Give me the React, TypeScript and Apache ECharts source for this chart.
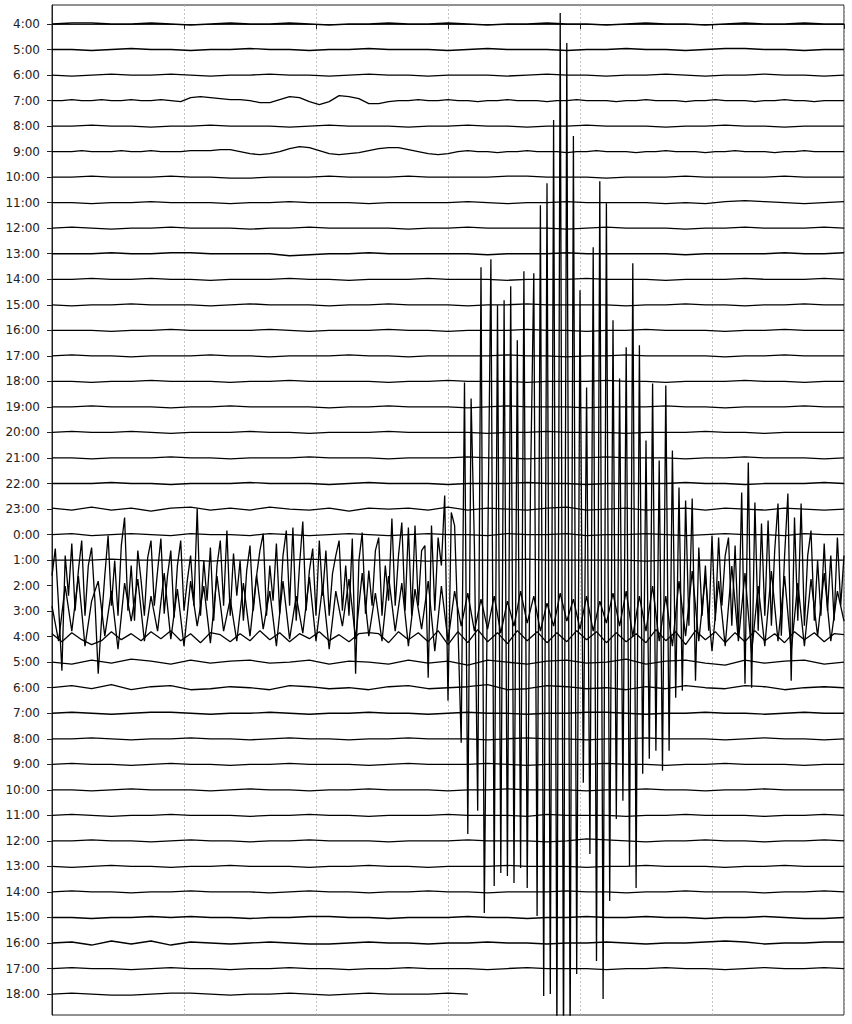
import React, { useEffect, useRef } from "react";
import * as echarts from "echarts";

// Hour labels, top to bottom
const hourLabels = [
  "4:00","5:00","6:00","7:00","8:00","9:00","10:00","11:00","12:00","13:00",
  "14:00","15:00","16:00","17:00","18:00","19:00","20:00","21:00","22:00","23:00",
  "0:00","1:00","2:00","3:00","4:00","5:00","6:00","7:00","8:00","9:00",
  "10:00","11:00","12:00","13:00","14:00","15:00","16:00","17:00","18:00",
];

// amplitude units: countsPerLine counts = one trace spacing
const countsPerLine = 25.5;
const hourMinutes = 60;
const lastTraceMinutes = 31.5;

const tr00 = [0,1,1,0,0,1,0,-1,0,1,0,0,1,0,-1,0,0,1,0,0,1,0,-1,0,0,1,0,0,-1,0,1,0,0,-1,0,1,0,0,1,0,0];
const tr01 = [0,0,-1,0,1,0,0,-1,0,0,1,0,0,-1,0,0,1,0,0,0,-1,0,1,0,0,0,-1,0,0,1,0,0,-1,0,1,1,0,0,-1,0,0];
const tr02 = [0,-1,0,1,0,0,1,0,-1,0,0,1,0,0,-1,0,1,0,0,-1,0,0,0,-1,0,1,0,0,-1,0,0,1,0,-1,0,0,1,0,0,-1,0];
const tr03 = [
  0,0,1,0,0,1,0,0,1,0, 0,1,0,-1,3,4,3,2,1,1,
  0,-2,-2,1,4,3,-1,-4,-1,5, 4,2,-3,-3,-1,0,0,1,0,0,
  1,0,0,-1,0,0,1,0,0,0, -1,0,0,1,0,0,0,-1,0,0,
  1,0,0,0,-1,0,0,1,0,0, 0,-1,0,0,1,0,0,-1,0,0, 0,
];
const tr04 = [0,0,1,0,0,-1,0,0,1,0,0,0,-1,0,1,0,0,0,-1,0,0,1,0,0,-1,0,0,1,0,0,0,-1,0,0,1,0,0,-1,0,0,0];
const tr05 = [
  0,0,0,1,0,0,0,1,0,0, 1,0,0,0,1,1,1,2,2,0,
  -2,-3,-2,0,3,5,4,1,-2,-3, -2,-1,1,3,4,4,2,0,-2,-3,
  -2,0,1,0,0,-1,0,0,1,0, 0,0,-1,0,0,1,0,0,0,-1,
  0,0,1,0,0,0,-1,0,0,1, 0,0,0,-1,0,0,1,0,0,0, 0,
];
const tr06 = [0,0,1,0,0,0,1,0,0,-1,-1,0,0,0,1,0,0,0,1,0,0,0,0,1,1,0,0,0,-1,0,0,0,1,0,0,0,0,1,0,0,0];
const tr07 = [0,0,-1,0,0,1,0,0,0,-1,0,0,1,0,0,0,-1,0,0,0,0,1,0,-1,0,0,1,0,0,0,0,-1,0,-1,1,2,1,0,-1,0,1];
const tr08 = [0,1,0,-1,0,0,1,0,0,0,-1,0,0,1,0,0,0,0,-1,0,0,1,0,0,0,0,-1,0,1,0,0,0,-1,0,0,1,0,0,0,1,0];
const tr09 = [0,0,0,1,0,0,1,1,0,0,0,0,-2,-1,0,0,1,0,0,0,0,0,-1,0,0,0,1,0,0,0,0,0,-1,0,0,0,0,1,0,0,1];
const tr10 = [0,0,1,0,0,1,0,0,-1,0,0,0,1,0,0,-1,0,0,0,1,0,0,0,-1,0,0,0,1,0,0,0,-1,0,0,0,1,0,0,0,1,0];
const tr11 = [0,-1,0,0,1,0,0,0,-1,0,1,0,0,0,-1,0,0,1,0,0,0,-1,0,0,1,0,0,0,0,-1,0,0,1,0,0,-1,0,0,1,0,0];
const tr12 = [0,0,0,-1,0,0,1,0,0,0,0,1,0,-1,0,0,0,1,0,0,-1,0,0,0,1,0,0,-1,0,0,1,0,0,0,-1,0,0,1,0,0,0];
const tr13 = [0,1,0,0,-1,0,0,0,1,0,0,-1,0,0,0,1,0,0,-1,0,0,0,0,1,0,0,-1,0,0,1,0,0,0,0,-1,0,0,1,0,0,0];
const tr14 = [0,0,-1,0,0,1,0,0,0,-1,0,0,1,0,0,0,0,-1,0,0,1,0,0,0,-1,0,0,0,1,0,0,-1,0,0,0,1,0,0,-1,0,0];
const tr15 = [0,0,1,0,0,0,-1,0,0,1,0,0,0,0,-1,0,0,1,0,0,0,-1,0,1,0,0,0,-1,0,0,0,1,0,0,-1,0,0,0,1,0,0];
const tr16 = [0,1,0,0,1,0,-1,0,0,0,1,0,0,-1,0,0,0,1,0,0,0,0,-1,0,0,1,0,0,0,-1,0,0,0,1,0,0,-1,0,0,0,0];
const tr17 = [0,0,-1,0,0,0,1,0,0,-1,0,0,0,1,0,0,0,-1,0,0,0,1,0,0,-1,0,0,0,1,0,0,0,-1,0,0,1,0,0,0,-1,0];
const tr18 = [0,0,0,1,0,0,-1,0,0,0,1,0,0,0,-1,0,1,0,0,0,-1,0,0,0,1,0,0,-1,0,0,0,0,1,0,0,-1,0,0,0,1,0];
const tr19 = [1,-1,2,-1,1,-2,1,2,-1,1,-1,2,0,-1,1,-2,1,0,1,-1,2,-1,1,0,-1,1,2,-1,0,1,-1,0,1,-1,1,0,-1,1,0,-1,0];
const tr20 = [0,1,-1,0,1,0,-1,1,0,0,-1,1,0,-1,0,1,0,-1,0,1,0,0,-1,1,0,0,1,-1,0,0,1,0,-1,0,1,0,0,-1,1,0,0];
const tr21 = [0,0,0,1,0,0,0,0,-1,0,0,0,0,1,0,0,0,0,0,-1,0,0,0,0,1,0,0,0,0,0,-1,0,0,0,0,1,0,0,0,0,0];
const tr22 = [
  10,37,-20,-85,30,-10,42,-25,15,45,
  -30,20,38,-15,-88,-35,10,50,-20,25,
  -30,40,68,-25,20,-35,35,5,-30,28,
  45,-20,15,47,-28,10,35,-32,20,45,
  -25,5,30,-20,77,-30,25,-15,38,-35,
  20,45,-20,55,-30,32,-10,25,-35,15,
  40,-25,10,35,52,-30,20,-15,42,-28,
  30,55,-20,58,-35,20,64,-25,15,37,
  -30,45,-10,35,-30,12,30,45,-25,20,
  -30,47,-88,25,53,-28,15,-20,35,48,
  -30,20,-15,67,-20,30,63,-25,58,-30,
  60,-20,35,40,-92,60,-25,48,20,90,
  -115,73,60,-40,-157,203,-248,187,40,-225,
  318,-327,20,326,-300,280,-287,285,-290,299,
  -297,245,-282,314,-302,100,312,-330,380,-410,
  402,-408,465,-455,572,-470,542,-460,449,-388,
  295,-197,198,-268,338,-375,404,-413,382,-315,
  265,-233,207,-215,238,-280,322,-302,240,-188,
  145,-173,202,-165,125,-185,200,-165,135,-112,
  98,-105,85,-40,87,-95,38,-30,20,-45,
  50,-35,48,-20,30,48,-40,40,-50,93,
  -98,123,-102,83,-45,62,-30,65,-40,35,
  82,-50,30,92,-95,68,-35,82,-40,30,
  55,-35,25,-30,42,-25,30,-35,48,-20,
  30,
];
const tr23 = [
  5,-30,25,-20,35,-35,10,30,-25,20,
  -38,28,-10,32,-30,15,-20,38,-28,22,
  -35,30,-15,25,-32,35,-20,12,-30,28,
  -25,36,-18,20,-35,30,-28,15,-22,34,
  -30,25,-38,20,-15,32,-28,38,-25,18,
  -30,35,-20,28,-35,22,-18,30,-40,25,
  -30,20,-15,18,-20,12,-18,15,-22,10,
  -15,20,-12,15,-20,8,-15,18,-10,12,
  -18,15,-20,10,-12,18,-15,20,-25,15,
  -20,25,-30,15,-35,30,-25,40,-30,35,
  -40,30,-35,45,-30,38,-42,25,-35,40,
  -30,35,-40,28,-35,32,-25,38,-30,20,
  -10,
];
const tr24 = [
  3,-5,4,-3,-8,-4,5,-3,3,-4,
  5,-2,6,-4,3,-6,4,2,-5,3,
  -4,6,-3,4,-5,3,-2,5,-4,2,
  -5,3,4,3,-6,5,-3,4,-5,6,
  -8,5,-6,7,-5,4,-7,6,-4,5,
  -6,4,-5,6,-3,5,-6,4,-5,3,
  -6,7,-4,5,-8,6,-3,5,-6,4,
  -5,6,-4,3,-6,5,-3,4,-5,3,
  2,
];
const tr25 = [0,-2,2,-1,3,1,-2,2,-1,1,2,-1,0,2,-2,1,0,-2,2,-1,1,-3,2,0,-2,1,2,-1,0,3,-2,1,2,-1,-3,2,-1,1,2,-2,0];
const tr26 = [0,2,-1,3,-2,1,2,-2,-1,1,0,-2,2,1,-1,0,-2,1,2,-1,0,1,3,-2,-1,2,1,-1,0,-2,1,-1,2,0,-1,2,1,-2,0,1,0];
const tr27 = [0,1,0,-1,0,1,1,0,-1,0,0,1,0,-1,0,0,1,0,0,-1,0,1,0,0,-1,0,0,1,1,0,-1,0,0,1,0,0,-1,0,1,0,0];
const tr28 = [0,0,1,0,-1,0,0,1,0,0,-1,0,1,0,0,-1,0,0,1,0,0,0,-1,0,1,0,0,-1,0,0,1,0,0,0,-1,0,1,0,0,-1,0];
const tr29 = [0,1,0,0,-1,0,1,0,0,-1,0,0,1,0,0,0,-1,0,1,0,0,0,1,0,-1,0,0,0,1,0,0,-1,0,0,1,0,0,0,-1,0,0];
const tr30 = [0,0,-1,0,1,0,0,0,-1,0,1,0,0,-1,0,0,1,0,0,0,-1,0,0,1,0,0,0,-1,0,0,1,0,0,-1,0,0,1,0,0,0,0];
const tr31 = [0,1,0,-1,0,0,1,0,0,0,-1,0,0,1,0,0,-1,0,0,0,1,0,0,0,-1,1,0,0,0,-1,0,0,1,0,0,0,-1,0,0,1,0];
const tr32 = [0,0,1,0,0,-1,0,1,0,0,-1,0,0,1,0,0,0,-1,0,0,0,1,0,0,0,-1,0,2,1,0,-1,0,0,1,0,0,-1,0,0,1,0];
const tr33 = [0,-1,0,1,0,0,-1,0,0,1,0,0,0,-1,0,0,1,0,0,-1,0,0,0,1,0,0,0,-1,0,0,1,0,0,0,-1,0,0,1,0,0,0];
const tr34 = [0,1,0,0,-1,0,0,1,0,0,0,-1,0,1,0,0,-1,0,0,1,0,0,-1,0,0,0,1,0,0,-1,0,0,1,0,0,0,-1,0,0,1,0];
const tr35 = [0,0,-1,0,0,1,0,1,0,0,-1,0,0,1,1,0,0,-1,0,0,0,1,0,0,-1,0,0,1,0,0,1,0,0,-1,0,0,1,0,-1,-1,0];
const tr36 = [0,1,-2,2,-1,2,-2,1,0,-1,0,1,0,-1,-1,0,1,0,0,-1,0,0,1,0,0,-1,0,0,1,0,-1,0,0,1,2,1,-1,0,0,1,1];
const tr37 = [0,1,0,0,-1,0,1,0,0,-1,0,0,1,0,0,-1,0,0,1,0,0,0,-1,0,1,0,0,0,-1,0,0,1,0,0,-1,0,1,0,0,1,0];
const tr38 = [0,1,0,-1,-1,0,1,1,0,-1,0,0,1,0,-1,0,1,0,0,0,1,0];

const traces = [
  tr00,tr01,tr02,tr03,tr04,tr05,tr06,tr07,tr08,tr09,
  tr10,tr11,tr12,tr13,tr14,tr15,tr16,tr17,tr18,tr19,
  tr20,tr21,tr22,tr23,tr24,tr25,tr26,tr27,tr28,tr29,
  tr30,tr31,tr32,tr33,tr34,tr35,tr36,tr37,tr38,
];

const tickMinutes = [0, 10, 20, 30, 40, 50, 60];

export default function App() {
  const ref = useRef<HTMLDivElement>(null);
  useEffect(() => {
    if (!ref.current) return;
    const chart = echarts.init(ref.current, null, { renderer: "svg" });
    const lineIdx = hourLabels.map((_, i) => i);
    const series = traces.map((vals, k) => {
      const dur = k === traces.length - 1 ? lastTraceMinutes : hourMinutes;
      const step = dur / (vals.length - 1);
      return {
        type: "line",
        data: vals.map((v, i) => [i * step, k - v / countsPerLine]),
        showSymbol: false,
        symbol: "none",
        silent: true,
        clip: true,
        lineStyle: { color: "#000", width: 1.3 },
      };
    });
    chart.setOption({
      animation: false,
      backgroundColor: "#fff",
      grid: {
        left: 52, right: 8, top: 5, bottom: 9,
        show: true, borderColor: "#222", borderWidth: 1,
      },
      xAxis: {
        type: "value",
        min: tickMinutes[0],
        max: tickMinutes[tickMinutes.length - 1],
        interval: 10,
        axisLine: { show: true, lineStyle: { color: "#222", width: 1 } },
        axisTick: { show: true, length: 5, lineStyle: { color: "#222" } },
        axisLabel: { show: false },
        splitLine: { show: true, lineStyle: { color: "#b5b5b5", width: 0.8, type: [2, 2] } },
      },
      yAxis: {
        type: "value",
        inverse: true,
        min: -0.744,
        max: 38.82,
        axisLine: { show: true, lineStyle: { color: "#222", width: 1 } },
        axisTick: { show: true, length: 5, customValues: lineIdx, lineStyle: { color: "#222" } },
        axisLabel: {
          show: true,
          customValues: lineIdx,
          margin: 12,
          fontFamily: "DejaVu Sans",
          fontSize: 12,
          color: "#222",
          formatter: (v: number) => hourLabels[Math.round(v)] ?? "",
        },
        splitLine: { show: false },
      },
      series,
    });
    return () => chart.dispose();
  }, []);
  return (
    <div
      ref={ref}
      style={{ position: "fixed", left: 0, top: 0, width: 852, height: 1024, background: "#fff" }}
    />
  );
}
